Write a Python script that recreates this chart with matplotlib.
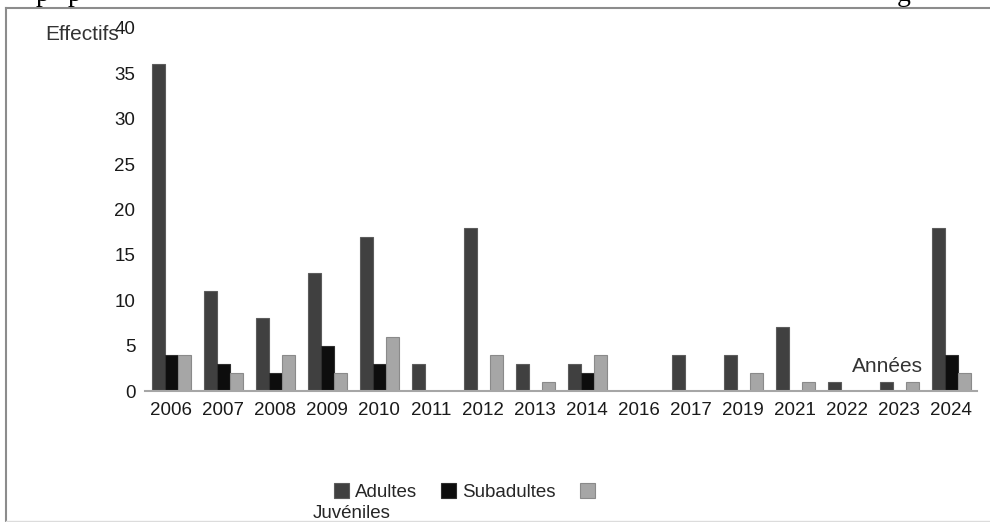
import matplotlib.pyplot as plt
import numpy as np
from matplotlib.lines import Line2D

plt.rcParams['font.family'] = ['Liberation Sans', 'DejaVu Sans']

# Effectifs par année et par classe d'âge
annees = ['2006', '2007', '2008', '2009', '2010', '2011', '2012', '2013',
          '2014', '2016', '2017', '2019', '2021', '2022', '2023', '2024']
adultes = [36, 11, 8, 13, 17, 3, 18, 3, 3, 0, 4, 4, 7, 1, 1, 18]
subadultes = [4, 3, 2, 5, 3, 0, 0, 0, 2, 0, 0, 0, 0, 0, 0, 4]
juveniles = [4, 2, 4, 2, 6, 0, 4, 1, 4, 0, 0, 2, 1, 0, 1, 2]

W, H = 990, 522
fig = plt.figure(figsize=(W / 100, H / 100), dpi=100)
ax = fig.add_axes([145 / W, 1 - 391 / H, 832 / W, 363 / H])

x = np.arange(len(annees))
larg = 0.25
b1 = ax.bar(x - larg, adultes, larg, color='#404040', edgecolor='#5c5c5c', linewidth=0.8)
b2 = ax.bar(x, subadultes, larg, color='#0d0d0d', edgecolor='#2e2e2e', linewidth=0.8)
b3 = ax.bar(x + larg, juveniles, larg, color='#a6a6a6', edgecolor='#8a8a8a', linewidth=0.8)

ax.set_xlim(-0.5, len(annees) - 0.5)
ax.set_ylim(0, 40)
ax.set_yticks(range(0, 41, 5))
ax.set_xticks(x)
ax.set_xticklabels(annees)
ax.tick_params(axis='both', length=0, labelsize=13.5, labelcolor='#1a1a1a')
ax.tick_params(axis='y', pad=7)
ax.tick_params(axis='x', pad=8)
for s in ['top', 'right', 'left']:
    ax.spines[s].set_visible(False)
ax.spines['bottom'].set_color('#a6a6a6')
ax.spines['bottom'].set_linewidth(1.5)

# titres des axes
fig.text(45 / W, 1 - 34 / H, 'Effectifs', fontsize=15, color='#333333', va='center', ha='left')
fig.text(887 / W, 1 - 367 / H, 'Années', fontsize=15, color='#333333', va='center', ha='center')

# légende (le dernier libellé passe à la ligne)
fig.legend([b1, b2, b3], ['Adultes', 'Subadultes', ''], ncol=3, frameon=False,
           loc='center left', bbox_to_anchor=(334 / W, 1 - 492 / H),
           fontsize=13.5, handlelength=0.8, handleheight=0.8, handletextpad=0.3,
           columnspacing=1.3, borderpad=0, borderaxespad=0,
           labelcolor='#262626')
fig.text(313 / W, 1 - 513 / H, 'Juvéniles', fontsize=13.5, color='#262626', va='center', ha='left')

# cadre autour du graphique
fig.add_artist(Line2D([6 / W, 6 / W], [1 - 8 / H, 1 - 521 / H], color='#8c8c8c', lw=1.5))
fig.add_artist(Line2D([6 / W, 1], [1 - 8 / H, 1 - 8 / H], color='#8c8c8c', lw=1.5))
fig.add_artist(Line2D([6 / W, 1], [1 - 521 / H, 1 - 521 / H], color='#dcdcdc', lw=1))

# bas de la ligne de texte au-dessus
for xp, c in [(36, 'p'), (68, 'p'), (897, 'g')]:
    fig.text(xp / W, 1 - 1 / H, c, fontsize=20, family='Liberation Serif', va='baseline', ha='left', color='black')

fig.savefig('out.png', dpi=100)
